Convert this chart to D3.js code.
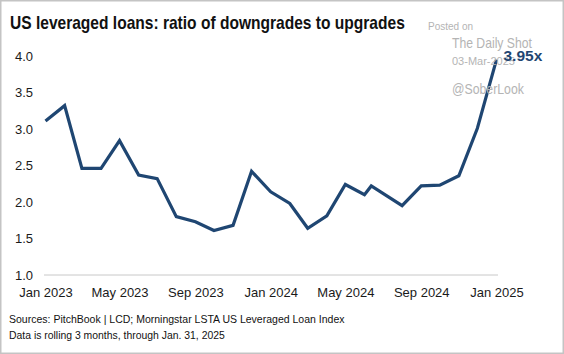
<!DOCTYPE html>
<html lang="en">
<head>
    <meta charset="UTF-8">
    <title>US leveraged loans: ratio of downgrades to upgrades</title>
    <script src="https://d3js.org/d3.v7.min.js"></script>
    <style>
        body {
            margin: 0;
            background: #fff;
            font-family: "Liberation Sans", Arial, sans-serif;
        }
        .tick-label {
            font-size: 13px;
            fill: #1a1a1a;
        }
        .wm {
            fill: #b4b4b4;
        }
    </style>
</head>
<body>
    <svg id="chart"></svg>

    <script>
        // Data
        const dates = [
            "2023-01-01", "2023-02-01", "2023-03-01", "2023-04-01", "2023-05-01", "2023-06-01",
            "2023-07-01", "2023-08-01", "2023-09-01", "2023-10-01", "2023-11-01", "2023-12-01",
            "2024-01-01", "2024-02-01", "2024-03-01", "2024-04-01", "2024-05-01", "2024-06-01",
            "2024-06-12", "2024-08-01", "2024-09-01", "2024-10-01", "2024-11-01", "2024-12-01",
            "2025-01-01"
        ];
        const ratios = [
            3.11, 3.32, 2.46, 2.46, 2.84, 2.37,
            2.32, 1.80, 1.73, 1.61, 1.68, 2.42,
            2.14, 1.98, 1.64, 1.81, 2.24, 2.10,
            2.22, 1.95, 2.22, 2.23, 2.36, 3.01,
            3.95
        ];
        const yTicks = [1.0, 1.5, 2.0, 2.5, 3.0, 3.5, 4.0];
        const xTicks = ["2023-01-01", "2023-05-01", "2023-09-01", "2024-01-01", "2024-05-01", "2024-09-01", "2025-01-01"];

        const width = 564;
        const height = 354;

        const parse = d3.timeParse("%Y-%m-%d");
        const data = dates.map((d, i) => ({ date: parse(d), value: ratios[i] }));

        const svg = d3.select('#chart')
            .attr('width', width)
            .attr('height', height);

        // squeeze a text horizontally so it spans w pixels from x
        function fitWidth(sel, x0, w) {
            const natural = sel.node().getComputedTextLength();
            const k = w / natural;
            sel.attr('x', 0)
                .attr('transform', `translate(${x0},${sel.attr('y')}) scale(${k},1)`)
                .attr('y', 0);
        }

        // frame
        svg.append('rect')
            .attr('x', 0.75).attr('y', 0.75)
            .attr('width', width - 1.5).attr('height', height - 1.5)
            .attr('fill', '#fff')
            .attr('stroke', '#c4c4c4')
            .attr('stroke-width', 1.5);

        // scales
        const x = d3.scaleTime()
            .domain([parse("2023-01-01"), parse("2025-01-01")])
            .range([45.5, 496.5]);

        const y = d3.scaleLinear()
            .domain([1, 4])
            .range([275, 56]);

        // title
        const title = svg.append('text')
            .attr('y', 29)
            .attr('font-size', 17.5)
            .attr('font-weight', 'bold')
            .attr('fill', '#111')
            .text('US leveraged loans: ratio of downgrades to upgrades');
        fitWidth(title, 10, 395);

        // baseline
        svg.append('line')
            .attr('x1', 44).attr('x2', 498)
            .attr('y1', y(1)).attr('y2', y(1))
            .attr('stroke', '#c8c8c8')
            .attr('stroke-width', 1);

        // y axis labels
        const yAxis = svg.append('g')
            .attr('transform', 'translate(33,0)')
            .call(d3.axisLeft(y).tickValues(yTicks).tickFormat(d3.format('.1f')).tickSize(0).tickPadding(0));
        yAxis.select('.domain').remove();
        yAxis.selectAll('text')
            .attr('class', 'tick-label')
            .attr('font-family', null)
            .attr('font-size', null);

        // x axis labels
        const xAxis = svg.append('g')
            .attr('transform', `translate(0,${y(1)})`)
            .call(d3.axisBottom(x)
                .tickValues(xTicks.map(parse))
                .tickFormat(d3.timeFormat('%b %Y'))
                .tickSize(0).tickPadding(13));
        xAxis.select('.domain').remove();
        xAxis.selectAll('text')
            .attr('class', 'tick-label')
            .attr('font-family', null)
            .attr('font-size', null);

        // line
        const line = d3.line()
            .x(d => x(d.date))
            .y(d => y(d.value));

        svg.append('path')
            .datum(data)
            .attr('fill', 'none')
            .attr('stroke', '#1f4672')
            .attr('stroke-width', 3.2)
            .attr('stroke-linejoin', 'miter')
            .attr('d', line);

        // watermark
        const wm = svg.append('g').attr('class', 'wm');
        wm.append('text').attr('x', 428).attr('y', 30).attr('font-size', 10).text('Posted on');
        const shot = wm.append('text').attr('y', 48).attr('font-size', 14).text('The Daily Shot');
        fitWidth(shot, 452, 80);
        wm.append('text').attr('x', 452).attr('y', 65).attr('font-size', 11).text('03-Mar-2025');
        const handle = wm.append('text').attr('y', 94).attr('font-size', 14).text('@SoberLook');
        fitWidth(handle, 452, 72);

        // end label
        const last = data[data.length - 1];
        svg.append('text')
            .attr('x', x(last.date) + 7)
            .attr('y', y(last.value) + 1)
            .attr('font-size', 15.5)
            .attr('font-weight', 'bold')
            .attr('fill', '#1f4672')
            .text(last.value.toFixed(2) + 'x');

        // sources
        const src1 = svg.append('text')
            .attr('y', 323)
            .attr('font-size', 11)
            .attr('fill', '#111')
            .text('Sources: PitchBook | LCD; Morningstar LSTA US Leveraged Loan Index');
        fitWidth(src1, 9, 336);
        const src2 = svg.append('text')
            .attr('y', 339)
            .attr('font-size', 11)
            .attr('fill', '#111')
            .text('Data is rolling 3 months, through Jan. 31, 2025');
        fitWidth(src2, 9, 216);
    </script>
</body>
</html>
